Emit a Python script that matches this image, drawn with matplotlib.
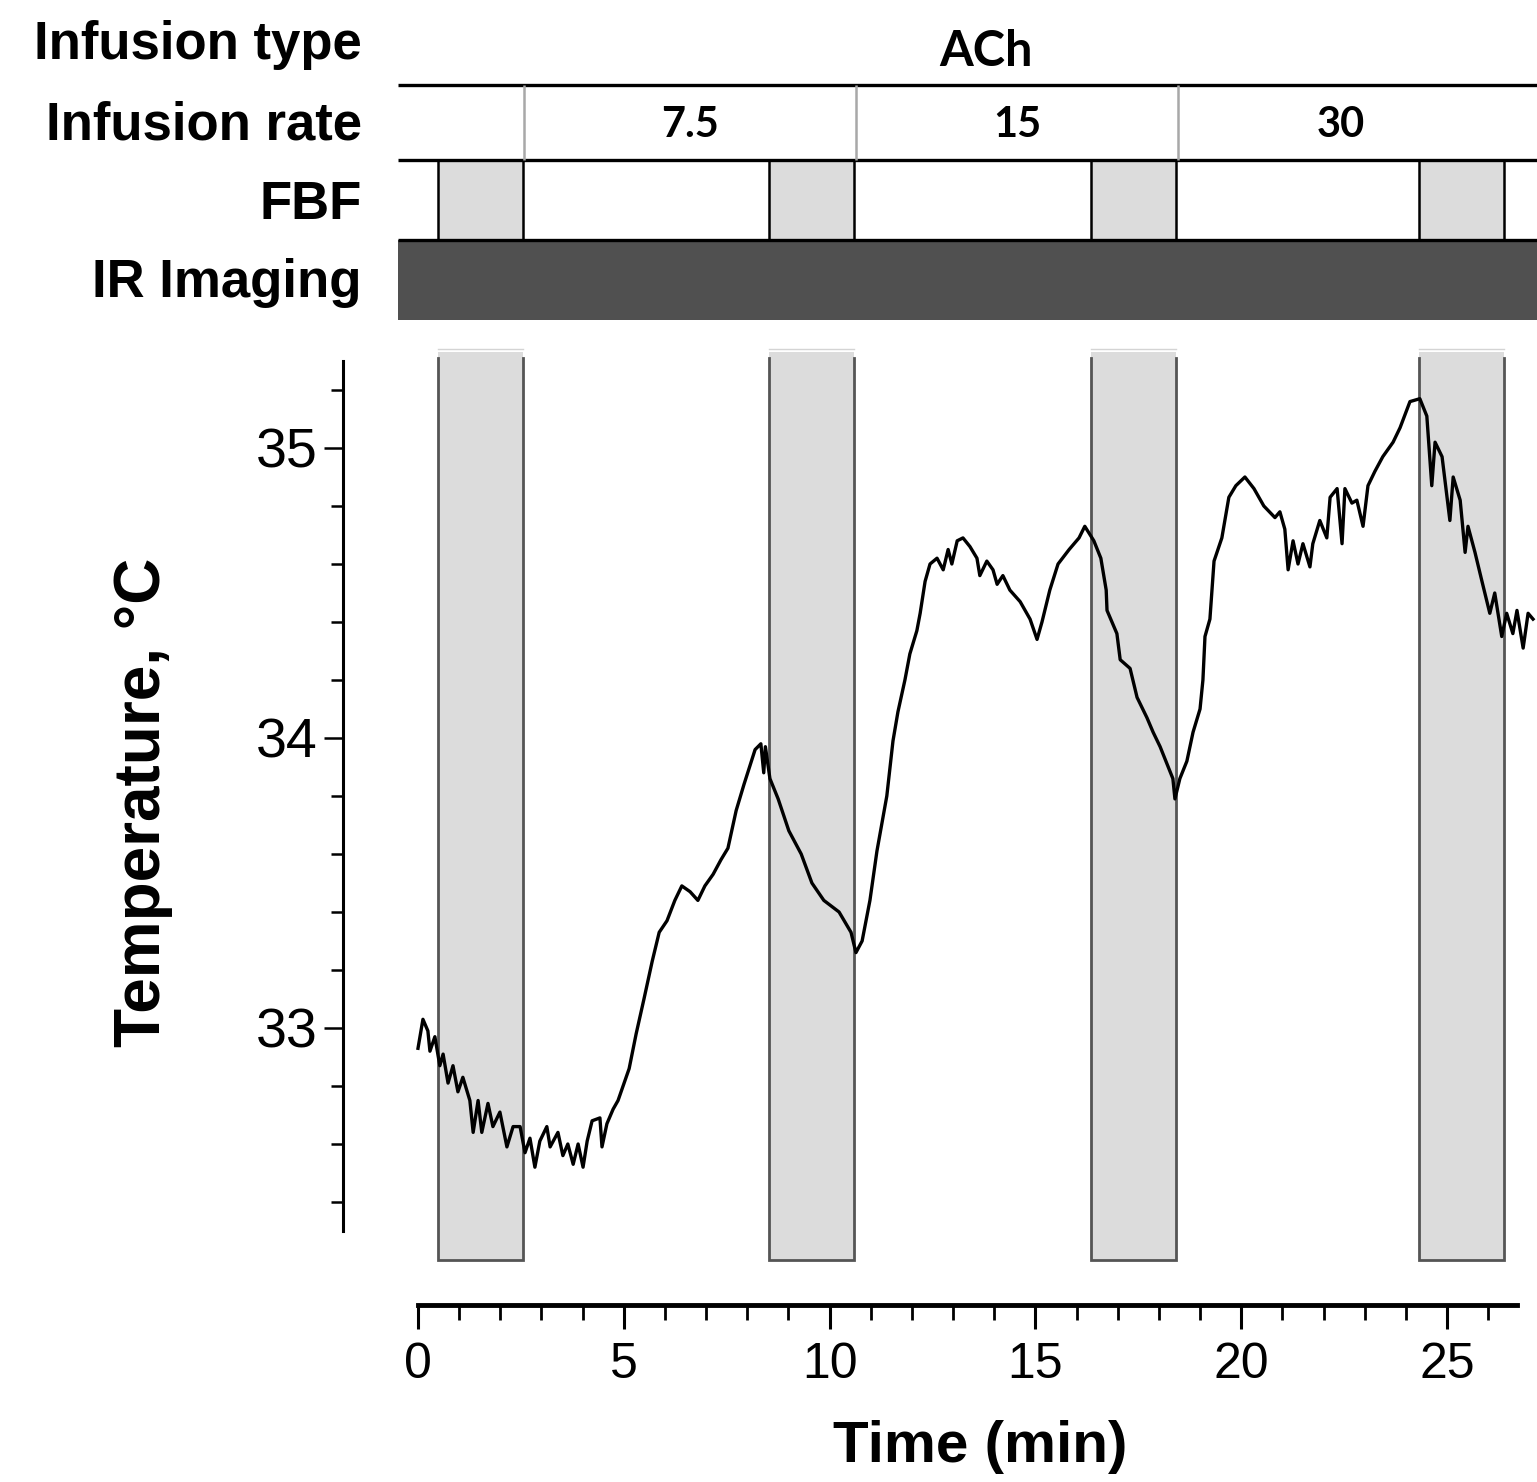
import matplotlib
matplotlib.use("Agg")
import matplotlib.pyplot as plt
from matplotlib.patches import Rectangle
import numpy as np

plt.rcParams['font.family'] = ['Liberation Sans', 'DejaVu Sans']

# temperature trace (min, degC)
time_min = [0.00, 0.12, 0.24, 0.29, 0.41, 0.53, 0.61, 0.73, 0.85, 0.97, 1.09, 1.26, 1.34, 1.46,
            1.55, 1.70, 1.82, 1.99, 2.16, 2.31, 2.48, 2.60, 2.72, 2.84, 2.96, 3.13, 3.21, 3.40,
            3.52, 3.64, 3.77, 3.89, 4.01, 4.11, 4.23, 4.42, 4.47, 4.59, 4.74, 4.86,
            5.13, 5.30, 5.49, 5.69, 5.86, 6.05, 6.24, 6.41, 6.61, 6.80, 6.97, 7.17, 7.36, 7.53,
            7.73, 7.92, 8.19, 8.33, 8.40, 8.44, 8.55, 8.75, 9.01, 9.31, 9.57, 9.86, 10.23, 10.52,
            10.64, 10.79, 10.98, 11.15, 11.39, 11.54, 11.66, 11.83, 11.95, 12.12, 12.20, 12.32,
            12.44, 12.61, 12.76, 12.88, 12.97, 13.10, 13.24, 13.41, 13.58, 13.65, 13.82, 13.97,
            14.07, 14.21, 14.38, 14.63, 14.87, 15.04, 15.16, 15.35, 15.55, 15.82, 16.06, 16.20,
            16.42, 16.59, 16.72, 16.74, 16.98, 17.06, 17.30, 17.47, 17.71, 17.86, 18.03, 18.20,
            18.34, 18.39, 18.51, 18.68, 18.83, 19.00, 19.07, 19.12, 19.24, 19.34, 19.53, 19.70,
            19.87, 20.09, 20.31, 20.55, 20.82,
            20.94, 21.06, 21.14, 21.26, 21.38, 21.50, 21.67, 21.74, 21.91, 22.08, 22.16, 22.33,
            22.45, 22.52, 22.69, 22.81, 22.96, 23.08, 23.25, 23.44, 23.69, 23.86,
            24.10, 24.34, 24.51, 24.63, 24.71, 24.88, 25.07, 25.15, 25.32, 25.44, 25.51, 25.68,
            25.85, 26.04, 26.16, 26.33, 26.45, 26.60, 26.70, 26.85, 26.97, 27.09]
temperature = [32.93, 33.03, 32.99, 32.92, 32.97, 32.87, 32.91, 32.81, 32.87, 32.78, 32.83, 32.75,
               32.64, 32.75, 32.64, 32.74, 32.66, 32.71, 32.59, 32.66, 32.66, 32.57, 32.62, 32.52,
               32.61, 32.66, 32.59, 32.64, 32.56, 32.60, 32.53, 32.60, 32.52, 32.61, 32.68, 32.69,
               32.59, 32.67, 32.72, 32.75,
               32.86, 32.98, 33.10, 33.23, 33.33, 33.37, 33.44, 33.49, 33.47, 33.44, 33.49, 33.53,
               33.58, 33.62, 33.75, 33.84, 33.96, 33.98, 33.88, 33.97, 33.86, 33.79, 33.68, 33.60,
               33.50, 33.44, 33.40, 33.33, 33.26, 33.30, 33.44, 33.61, 33.80, 33.99, 34.09, 34.20,
               34.29, 34.37, 34.43, 34.54, 34.60, 34.62, 34.58, 34.65, 34.60, 34.68, 34.69, 34.66,
               34.62, 34.56, 34.61, 34.58, 34.53, 34.56, 34.51, 34.47, 34.41, 34.34, 34.40, 34.51,
               34.60, 34.65, 34.69, 34.73, 34.68, 34.62, 34.51, 34.44, 34.36, 34.27, 34.24, 34.14,
               34.07, 34.02, 33.97, 33.91, 33.86, 33.79, 33.86, 33.92, 34.02, 34.10, 34.20, 34.35,
               34.41, 34.61, 34.69, 34.83, 34.87, 34.90, 34.86, 34.80, 34.76,
               34.78, 34.72, 34.58, 34.68, 34.60, 34.67, 34.59, 34.67, 34.75, 34.69, 34.83, 34.86,
               34.67, 34.86, 34.81, 34.82, 34.73, 34.87, 34.92, 34.97, 35.02, 35.07,
               35.16, 35.17, 35.11, 34.87, 35.02, 34.97, 34.75, 34.90, 34.82, 34.64, 34.73, 34.64,
               34.54, 34.43, 34.50, 34.35, 34.43, 34.36, 34.44, 34.31, 34.43, 34.41]

# FBF measurement windows (min)
fbf_start = [0.49, 8.53, 16.35, 24.32]
fbf_end = [2.55, 10.59, 18.42, 26.38]

# ACh infusion rate segments
rate_labels = ['7.5', '15', '30']
rate_start = [2.58, 10.64, 18.46]
rate_end = [10.64, 18.46, 26.38]
infusion_type = 'ACh'

# pixel calibration of the reference layout
W, H = 1537, 1482
x0_px, px_per_min = 418, 41.16
y33_px, px_per_deg = 1028, 290.0


def fx(px):
    return px / W


def fy(py):
    return 1 - py / H


def t_of(px):
    return (px - x0_px) / px_per_min


def T_of(py):
    return 33 - (py - y33_px) / px_per_deg


fig = plt.figure(figsize=(W / 100, H / 100), dpi=100)

# main temperature panel
ax = fig.add_axes([fx(343), fy(1305), fx(1537) - fx(343), fy(340) - fy(1305)])
ax.set_xlim(t_of(343), t_of(1537))
ax.set_ylim(T_of(1305), T_of(340))

band_lo, band_hi = 32.2, 35.33
for s, e in zip(fbf_start, fbf_end):
    ax.fill_between([s, e], band_lo, band_hi, color='#dcdcdc', lw=0, zorder=1)
    ax.plot([s, s, e, e], [band_hi - 0.02, band_lo, band_lo, band_hi - 0.02],
            color='#555555', lw=2.0, zorder=2, solid_joinstyle='miter')
    ax.plot([s, e], [band_hi + 0.01, band_hi + 0.01], color='#d4d4d4', lw=1.0, zorder=2)

ax.plot(time_min, temperature, color='black', lw=2.4, zorder=3)

for side in ['top', 'right']:
    ax.spines[side].set_visible(False)
ax.spines['left'].set_bounds(32.3, 35.3)
ax.spines['left'].set_linewidth(2.2)
ax.spines['bottom'].set_bounds(0, 26.7)
ax.spines['bottom'].set_linewidth(3.5)

ax.set_yticks([33, 34, 35])
ax.set_yticks(np.arange(32.4, 35.21, 0.2), minor=True)
ax.set_xticks([0, 5, 10, 15, 20, 25])
ax.set_xticks(range(0, 27), minor=True)
ax.tick_params(axis='y', which='major', length=14, width=1.8, labelsize=40, pad=4)
ax.tick_params(axis='y', which='minor', length=9, width=1.8)
ax.tick_params(axis='x', which='major', length=17, width=2.2, labelsize=36, pad=10)
ax.tick_params(axis='x', which='minor', length=11, width=2.0)

ax.set_xlabel('Time (min)', fontsize=42, fontweight='bold')
ax.xaxis.set_label_coords((980 - 343) / 1194, (1305 - 1447) / 965)
ax.xaxis.label.set_va('center')
ax.set_ylabel('Temperature, °C', fontsize=46, fontweight='bold')
ax.yaxis.set_label_coords((143 - 343) / 1194, (1305 - 802) / 965)
ax.yaxis.label.set_va('center')

# protocol panel on top
tax = fig.add_axes([fx(343), fy(325), fx(1537) - fx(343), fy(0) - fy(325)])
tax.set_xlim(t_of(343), t_of(1537))
tax.set_ylim(325, 0)
tax.axis('off')

x_left, x_right = t_of(398), t_of(1537)
tax.add_patch(Rectangle((x_left, 240), x_right - x_left, 80, fc='#505050', ec='none'))
for s, e in zip(fbf_start, fbf_end):
    tax.add_patch(Rectangle((s, 160), e - s, 80, fc='#dcdcdc', ec='black', lw=1.8))
tax.hlines([85, 160, 240], x_left, x_right, colors='black', lw=2.4)
tax.vlines(rate_start, 85, 160, colors='#a8a8a8', lw=1.8)

tax.text(13.8, 52, infusion_type, ha='center', va='center', fontsize=35,
         fontweight='bold', family=['Lato', 'DejaVu Sans'])
for lab, s, e in zip(rate_labels, rate_start, rate_end):
    tax.text((s + e) / 2, 125, lab, ha='center', va='center', fontsize=30,
             fontweight='bold', family=['Lato', 'DejaVu Sans'])

row_labels = ['Infusion type', 'Infusion rate', 'FBF', 'IR Imaging']
row_y = [45, 125, 205, 283]
for lab, py in zip(row_labels, row_y):
    fig.text(fx(362), fy(py), lab, ha='right', va='center', fontsize=38, fontweight='bold')

fig.savefig('out.png', dpi=100)
